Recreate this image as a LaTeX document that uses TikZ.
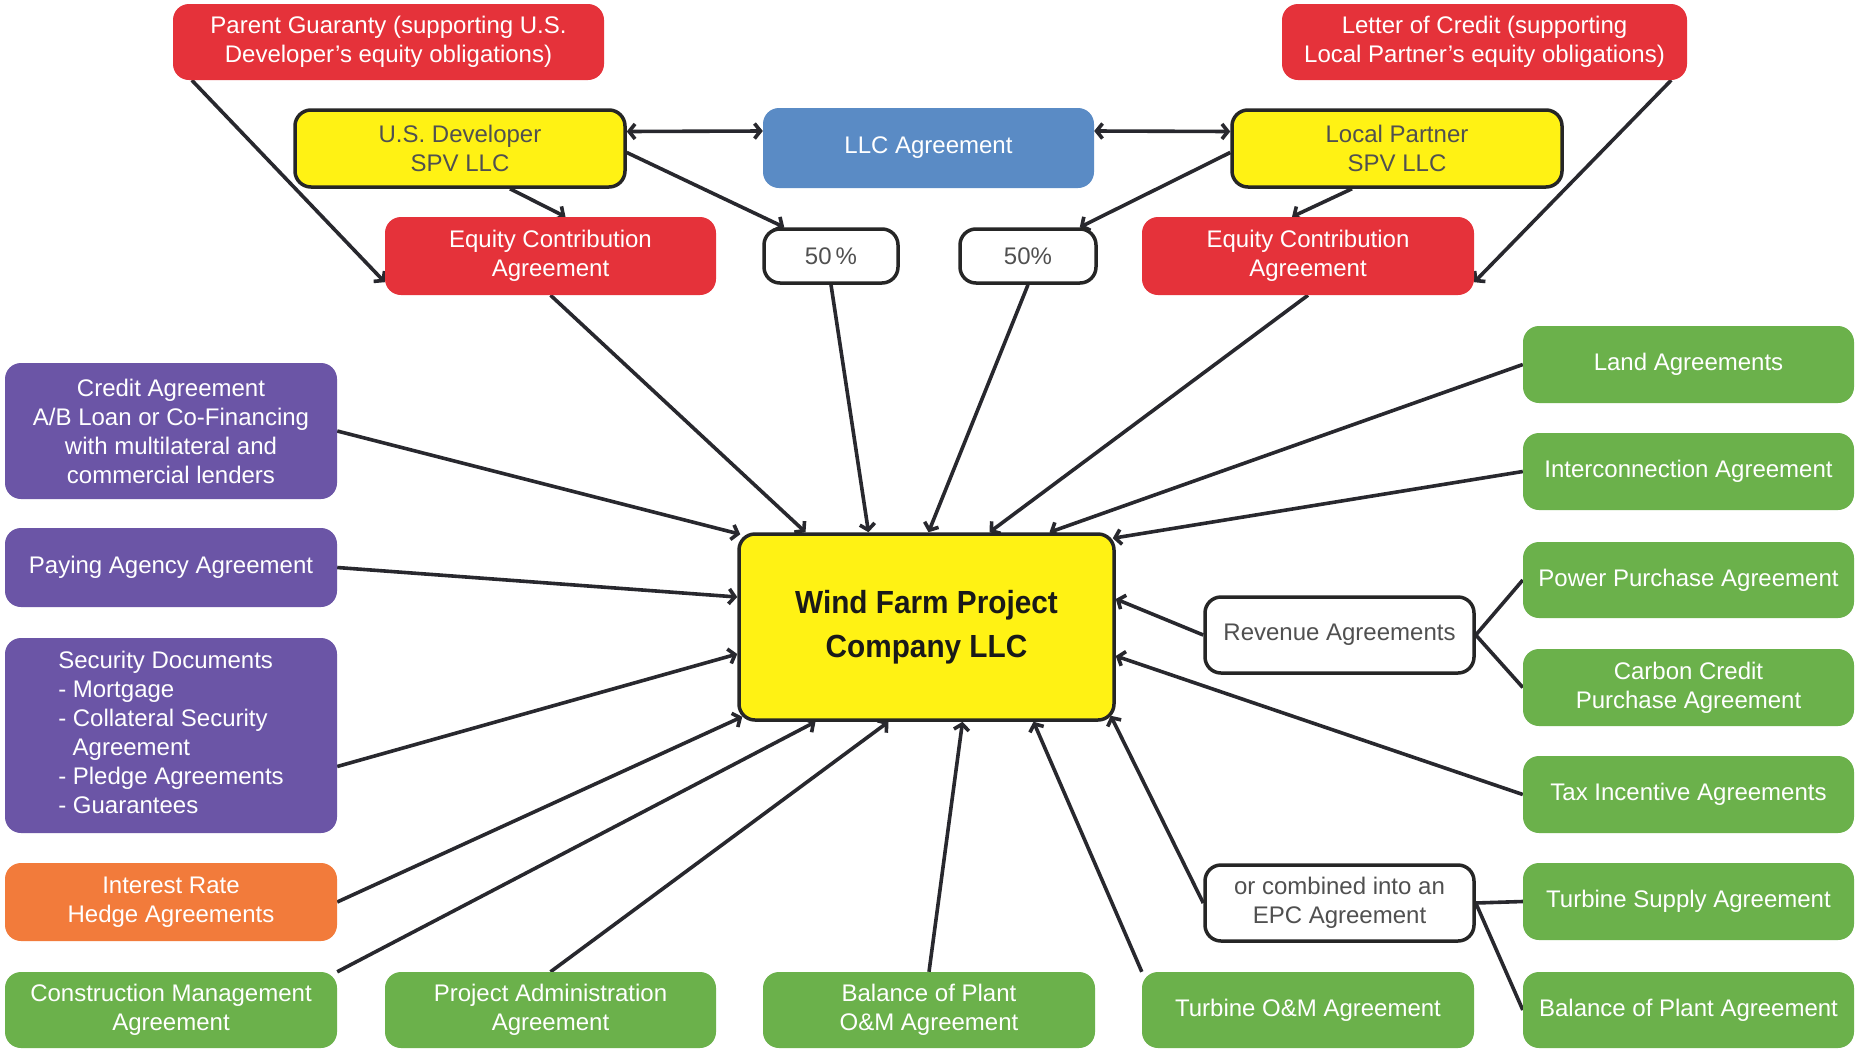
\documentclass[tikz,border=0pt]{standalone}
\usepackage{fontspec}
\setmainfont{Liberation Sans}
\newfontfamily\wffont{Liberation Sans}[FakeStretch=0.93]
\usetikzlibrary{arrows.meta,backgrounds,calc}
\definecolor{cred}{HTML}{E5323A}
\definecolor{cyel}{HTML}{FFF214}
\definecolor{cblue}{HTML}{5A8BC5}
\definecolor{cpur}{HTML}{6B55A6}
\definecolor{corg}{HTML}{F27B3B}
\definecolor{cgrn}{HTML}{6BB14B}
\definecolor{cline}{HTML}{28282E}
\definecolor{ctxt}{HTML}{505050}
\newcommand{\boxat}[7]{\node[#2, minimum width={(#5)-(#3)}, minimum height={(#6)-(#4)}] (#1) at ({((#3)+(#5))/2},{((#4)+(#6))/2}) {#7};}
\begin{document}
\begin{tikzpicture}[x=1pt,y=-1pt,
  base/.style={rounded corners=16pt, inner sep=0pt, align=center, font=\fontsize{24}{29}\selectfont},
  redbox/.style={base, fill=cred, text=white},
  bluebox/.style={base, fill=cblue, text=white},
  purbox/.style={base, fill=cpur, text=white},
  orgbox/.style={base, fill=corg, text=white},
  grnbox/.style={base, fill=cgrn, text=white},
  yelbox/.style={base, fill=cyel, draw=black!85, line width=3.5pt, text=ctxt},
  wfbox/.style={yelbox, text=black!90, font=\wffont\bfseries\fontsize{32}{44}\selectfont},
  whtbox/.style={base, fill=white, draw=black!85, line width=3.5pt, text=ctxt},
  conn/.style={draw=cline, line width=3.6pt},
  arr/.style={conn, -{Straight Barb[length=6pt,width=15pt,line width=3.6pt]}},
  darr/.style={conn, {Straight Barb[length=6pt,width=15pt,line width=3.6pt]}-{Straight Barb[length=6pt,width=15pt,line width=3.6pt]}},
]
\useasboundingbox (0,0) rectangle (1856,1050);

% top row
\boxat{pg}{redbox}{173}{4}{604}{80}{Parent Guaranty (supporting U.S.\\Developer's equity obligations)}
\boxat{loc}{redbox}{1282}{4}{1687}{80}{Letter of Credit (supporting\\Local Partner's equity obligations)}
\boxat{usd}{yelbox}{295}{110}{625}{187}{U.S. Developer\\SPV LLC}
\boxat{llc}{bluebox}{763}{108}{1094}{188}{LLC Agreement}
\boxat{lp}{yelbox}{1232}{110}{1562}{187}{Local Partner\\SPV LLC}
\boxat{ecal}{redbox}{385}{217}{716}{295}{Equity Contribution\\Agreement}
\boxat{pl}{whtbox}{764}{229}{898}{283}{50\,\%}
\boxat{pr}{whtbox}{960}{229}{1096}{283}{50\%}
\boxat{ecar}{redbox}{1142}{217}{1474}{295}{Equity Contribution\\Agreement}

% left column
\boxat{cred}{purbox}{5}{363}{337}{499}{Credit Agreement\\A/B Loan or Co-Financing\\with multilateral and\\commercial lenders}
\boxat{pay}{purbox}{5}{528}{337}{607}{Paying Agency Agreement}
\boxat{sec}{purbox}{5}{638}{337}{833}{\begin{tabular}{@{}l@{}}Security Documents\\- Mortgage\\- Collateral Security\\\hspace*{0.6em}Agreement\\- Pledge Agreements\\- Guarantees\end{tabular}}
\boxat{irh}{orgbox}{5}{863}{337}{941}{Interest Rate\\Hedge Agreements}

% bottom row
\boxat{cm}{grnbox}{5}{972}{337}{1048}{Construction Management\\Agreement}
\boxat{pa}{grnbox}{385}{972}{716}{1048}{Project Administration\\Agreement}
\boxat{bom}{grnbox}{763}{972}{1095}{1048}{Balance of Plant\\O\&M Agreement}
\boxat{tom}{grnbox}{1142}{972}{1474}{1048}{Turbine O\&M Agreement}

% right column
\boxat{land}{grnbox}{1523}{326}{1854}{403}{Land Agreements}
\boxat{ic}{grnbox}{1523}{433}{1854}{510}{Interconnection Agreement}
\boxat{ppa}{grnbox}{1523}{542}{1854}{618}{Power Purchase Agreement}
\boxat{ccp}{grnbox}{1523}{649}{1854}{726}{Carbon Credit\\Purchase Agreement}
\boxat{tax}{grnbox}{1523}{756}{1854}{833}{Tax Incentive Agreements}
\boxat{tsa}{grnbox}{1523}{863}{1854}{940}{Turbine Supply Agreement}
\boxat{bop}{grnbox}{1523}{972}{1854}{1048}{Balance of Plant Agreement}

% middle
\boxat{rev}{whtbox}{1205}{597}{1474}{673}{Revenue Agreements}
\boxat{epc}{whtbox}{1205}{865}{1474}{941}{or combined into an\\EPC Agreement}
\boxat{wf}{wfbox}{739}{534}{1114}{720}{Wind Farm Project\\Company LLC}

\begin{scope}[on background layer]
\fill[white] (0,0) rectangle (1856,1050);
% top connectors
\draw[arr] ([xshift=19pt]pg.south west) -- ([yshift=13pt]ecal.south west);
\draw[arr] ([xshift=-16pt]loc.south east) -- ([yshift=13pt]ecar.south east);
\draw[darr] ([yshift=17pt]usd.east) -- ([yshift=17pt]llc.west);
\draw[darr] ([yshift=17pt]llc.east) -- ([yshift=17pt]lp.west);
\draw[arr] ([xshift=50pt]usd.south) -- ([xshift=15pt]ecal.north);
\draw[arr] ([yshift=-4pt]usd.east) -- ([xshift=22pt]pl.north west);
\draw[arr] ([yshift=-4pt]lp.west) -- ([xshift=-18pt]pr.north east);
\draw[arr] ([xshift=-45pt]lp.south) -- ([xshift=-16pt]ecar.north);

% into the project company
\draw[arr] (ecal.south) -- ([xshift=-121pt]wf.north);
\draw[arr] (pl.south) -- ([xshift=-58pt]wf.north);
\draw[arr] (pr.south) -- ([xshift=2pt]wf.north);
\draw[arr] (ecar.south) -- ([xshift=63pt]wf.north);
\draw[arr] (land.west) -- ([xshift=123pt]wf.north);
\draw[arr] (ic.west) -- ([xshift=-3pt,yshift=-6pt]wf.north east);
\draw[arr] (cred.east) -- ([xshift=3pt,yshift=-2pt]wf.north west);
\draw[arr] (pay.east) -- ([yshift=30pt]wf.west);
\draw[arr] ([yshift=-31pt]sec.east) -- ([yshift=-27pt]wf.west);
\draw[arr] (irh.east) -- ([xshift=5pt,yshift=5pt]wf.south west);
\draw[arr] (cm.north east) -- ([xshift=-111pt]wf.south);
\draw[arr] (pa.north) -- ([xshift=-38pt]wf.south);
\draw[arr] (bom.north) -- ([xshift=36pt]wf.south);
\draw[arr] (tom.north west) -- ([xshift=107pt]wf.south);
\draw[arr] (epc.west) -- ([xshift=-5pt,yshift=6pt]wf.south east);
\draw[arr] (rev.west) -- ([yshift=28pt]wf.east);
\draw[arr] (tax.west) -- ([yshift=-29pt]wf.east);

% revenue / EPC branches
\draw[conn] (rev.east) -- (ppa.west);
\draw[conn] (rev.east) -- (ccp.west);
\draw[conn] (epc.east) -- (tsa.west);
\draw[conn] (epc.east) -- (bop.west);
\end{scope}
\end{tikzpicture}
\end{document}
